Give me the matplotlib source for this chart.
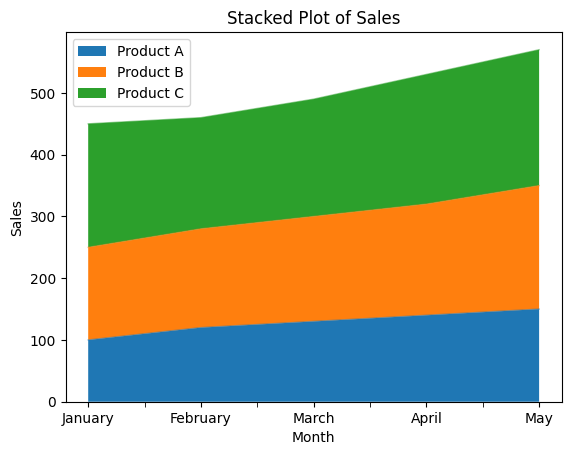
import matplotlib
matplotlib.use("Agg")
import matplotlib.pyplot as plt
import numpy as np
from matplotlib.ticker import FixedLocator

months = ["January", "February", "March", "April", "May"]
product_a = [100, 120, 130, 140, 150]
product_b = [150, 160, 170, 180, 200]
product_c = [200, 180, 190, 210, 220]
labels = ["Product A", "Product B", "Product C"]

fig, ax = plt.subplots(figsize=(6.4, 4.8), dpi=100)
x = np.arange(len(months))
polys = ax.stackplot(x, product_a, product_b, product_c, labels=labels)
cum = np.cumsum(np.array([product_a, product_b, product_c]), axis=0)
for i, p in enumerate(polys):
    ax.plot(x, cum[i], color=p.get_facecolor()[0], alpha=0.5, lw=1)
ax.set_xticks(x)
ax.set_xticklabels(months)
ax.xaxis.set_minor_locator(FixedLocator(x[:-1] + 0.5))
ax.tick_params(axis="x", which="minor", length=3.5)
ax.set_title("Stacked Plot of Sales")
ax.set_xlabel("Month")
ax.set_ylabel("Sales")
ax.legend(loc="upper left")
fig.savefig("out.png", bbox_inches="tight")
